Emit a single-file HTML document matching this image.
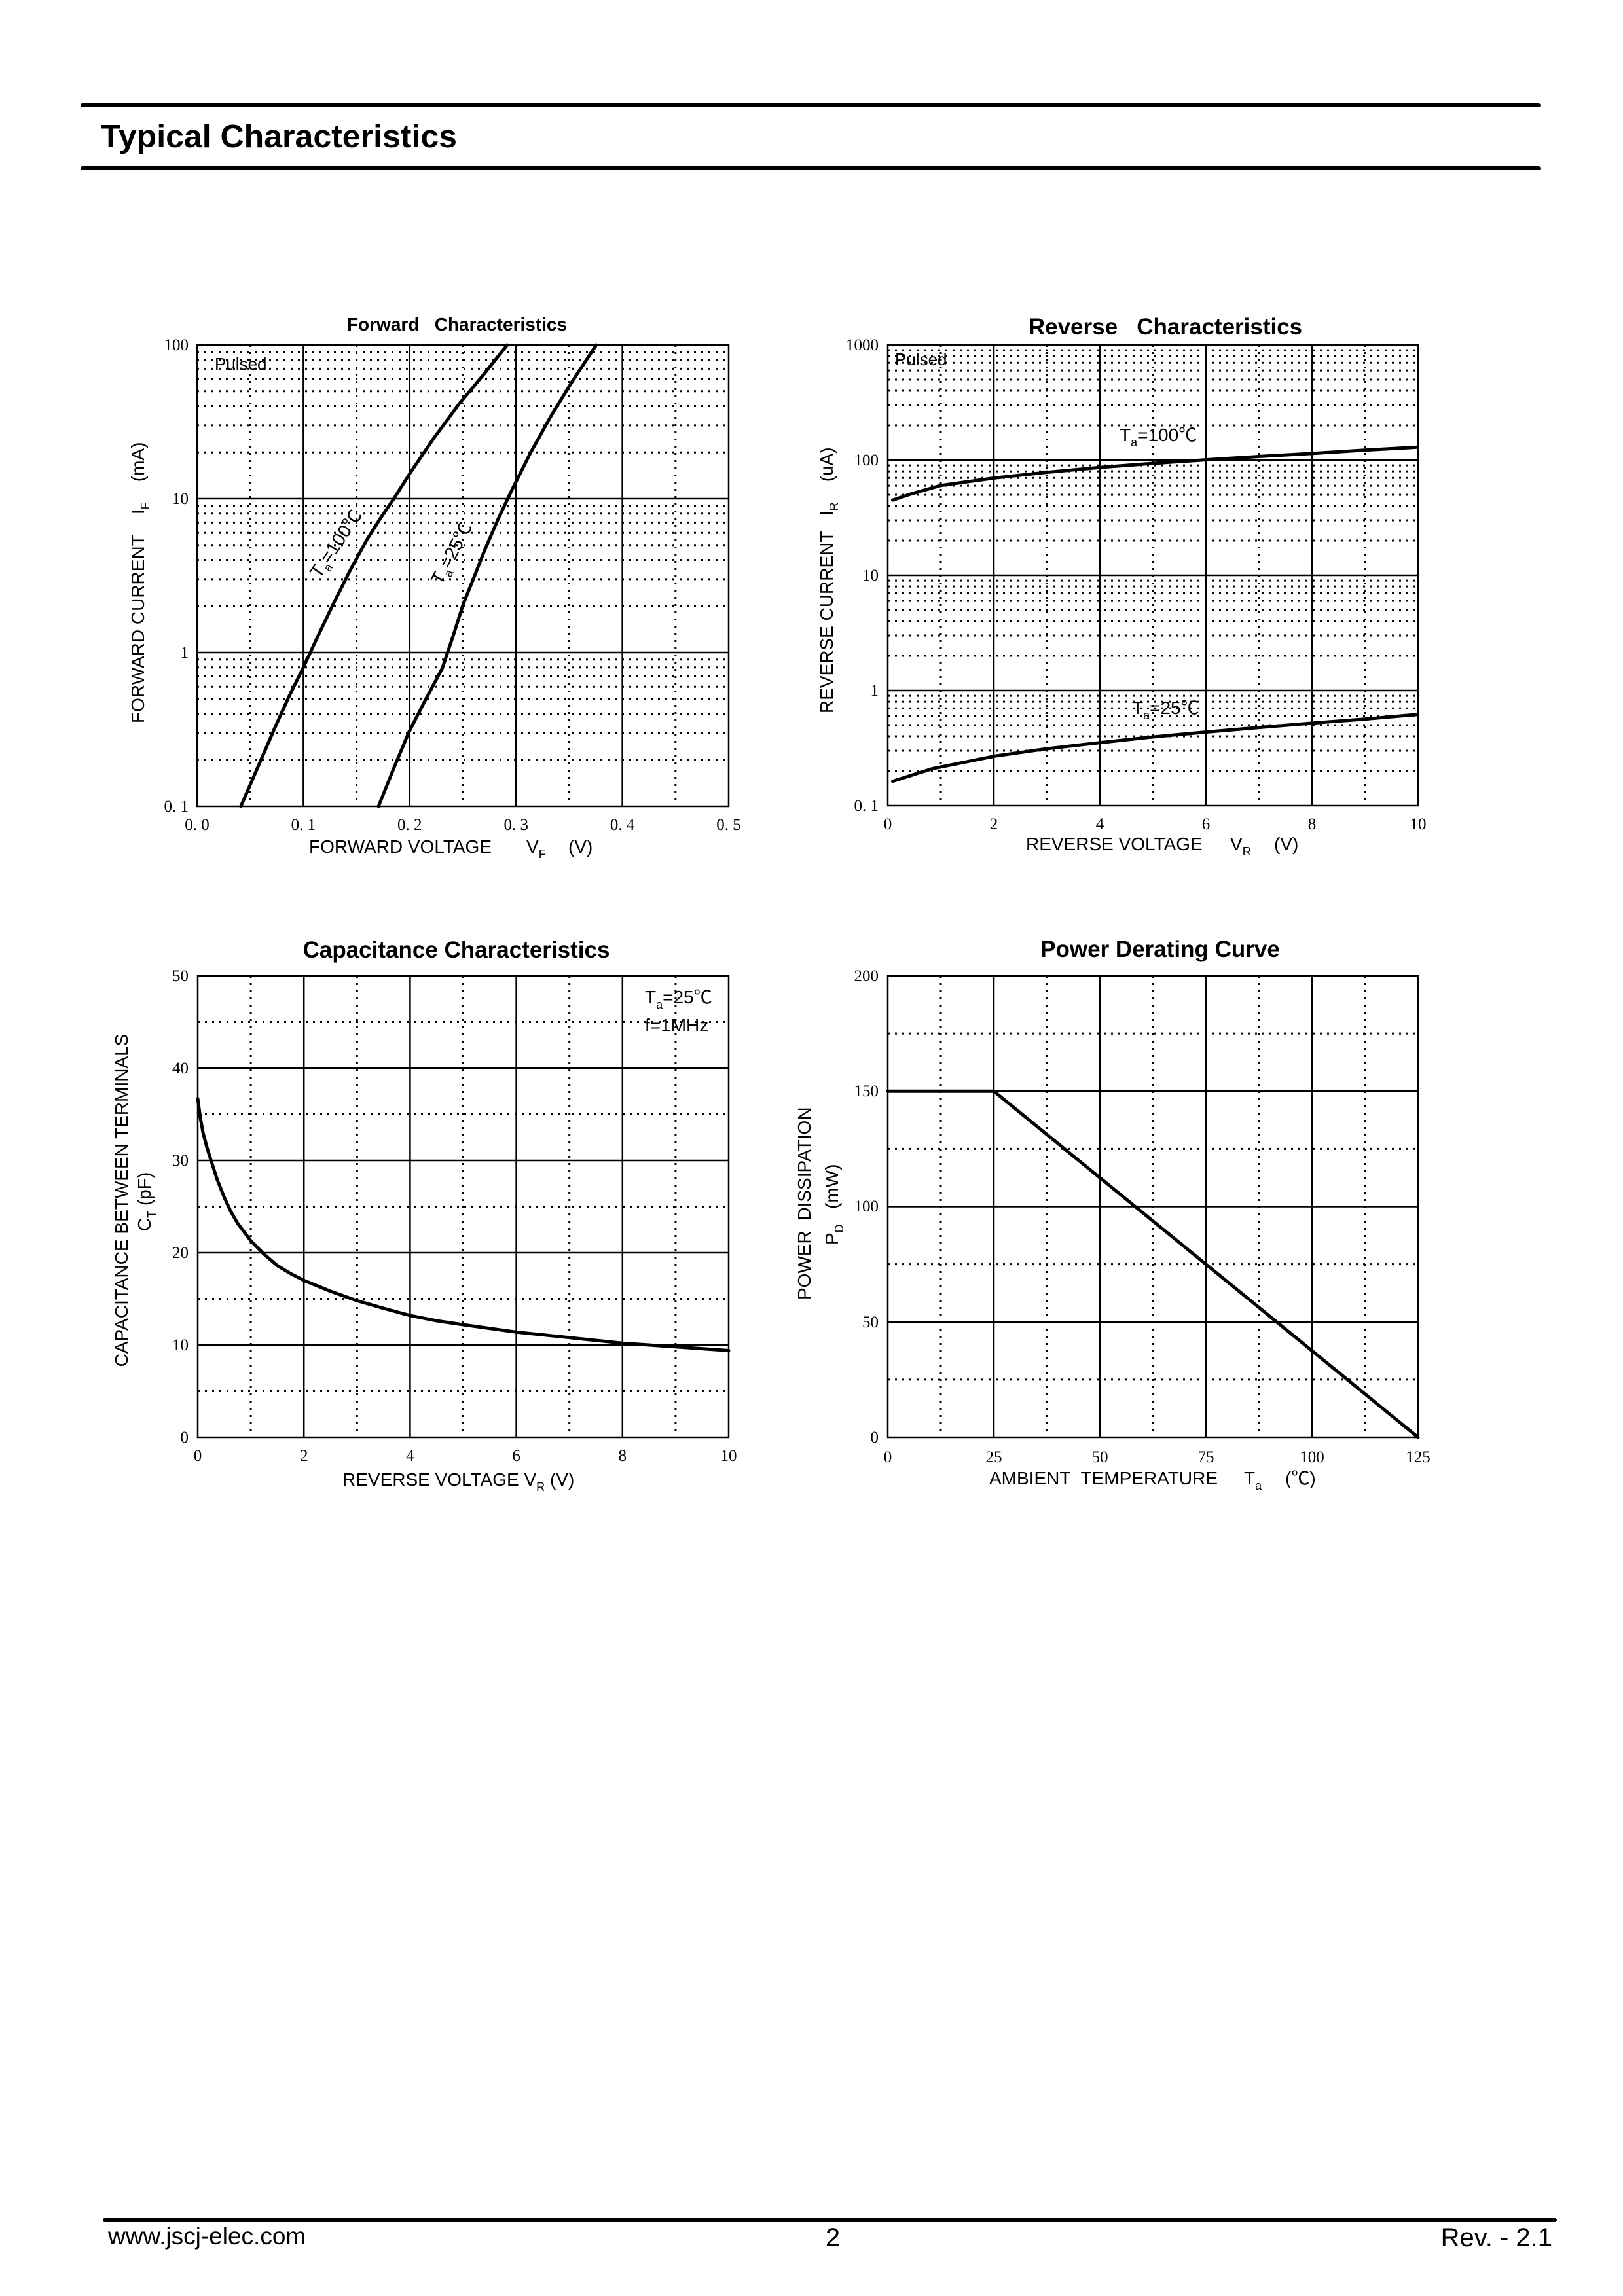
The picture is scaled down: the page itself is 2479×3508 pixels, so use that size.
<!DOCTYPE html>
<html><head><meta charset="utf-8"><style>
html,body{margin:0;padding:0;background:#fff}
svg{display:block}
.t{font-family:"Liberation Serif","Noto Serif CJK SC",serif;font-size:25px;fill:#000}
.s{font-family:"Liberation Sans","Noto Sans CJK SC",sans-serif;fill:#000}
.g{stroke:#000;stroke-width:2.5;fill:none}
.d{stroke:#000;stroke-width:3;stroke-dasharray:3 8;fill:none}
.c{stroke:#000;stroke-width:5;fill:none;stroke-linejoin:round;stroke-linecap:round}
</style></head><body>
<svg width="2479" height="3508" viewBox="0 0 2479 3508" xmlns="http://www.w3.org/2000/svg">
<!-- header -->
<line x1="126" y1="161" x2="2350" y2="161" stroke="#000" stroke-width="6" stroke-linecap="round"/>
<line x1="126" y1="257" x2="2350" y2="257" stroke="#000" stroke-width="6" stroke-linecap="round"/>
<text x="154" y="225" class="s" font-size="49" font-weight="bold" textLength="544" lengthAdjust="spacingAndGlyphs">Typical Characteristics</text>
<!-- footer -->
<line x1="160" y1="3392" x2="2375" y2="3392" stroke="#000" stroke-width="6" stroke-linecap="round"/>
<text x="165" y="3429" class="s" font-size="37">www.jscj-elec.com</text>
<text x="1272" y="3432" class="s" font-size="40" text-anchor="middle">2</text>
<text x="2371" y="3432" class="s" font-size="40" text-anchor="end">Rev. - 2.1</text>

<!-- ===== Forward ===== -->
<path class="d" d="M301 1161.3H1113M301 1119.9H1113M301 1090.5H1113M301 1067.7H1113M301 1049.2H1113M301 1033.4H1113M301 1019.8H1113M301 1007.8H1113
M301 926.3H1113M301 884.9H1113M301 855.5H1113M301 832.7H1113M301 814.2H1113M301 798.4H1113M301 784.8H1113M301 772.8H1113
M301 691.3H1113M301 649.9H1113M301 620.5H1113M301 597.7H1113M301 579.2H1113M301 563.4H1113M301 549.8H1113M301 537.8H1113
M382.2 527V1232M544.6 527V1232M707 527V1232M869.4 527V1232M1031.8 527V1232"/>
<path class="g" d="M301 762H1113M301 997H1113M463.4 527V1232M625.8 527V1232M788.2 527V1232M950.6 527V1232"/>
<rect x="301" y="527" width="812" height="705" class="g"/>
<polyline class="c" points="367.9,1232 393,1174 419.1,1113.6 441,1065 464,1018.4 486,971 508.9,923.2 534,873 560.1,825.1 581,792 601.8,761.6 627.4,721.2 662.7,669.3 701.1,617.3 739.6,571.2 774.8,527"/>
<polyline class="c" points="578.1,1232 601,1175 624.2,1119.4 650,1069 675.5,1021.2 692,972 707.5,923.2 724,882 739.6,842.4 760,795 781.2,750.1 810,692.4 842.1,634.7 874.1,582.7 910.7,527"/>
<text x="698" y="505" class="s" font-size="28" font-weight="bold" text-anchor="middle">Forward&#160;&#160; Characteristics</text>
<text x="328" y="565" class="s" font-size="26">Pulsed</text>
<text class="s" font-size="28" transform="translate(488,885) rotate(-56)">T<tspan font-size="18" dy="7">a</tspan><tspan dy="-7">=100℃</tspan></text>
<text class="s" font-size="28" transform="translate(674,895) rotate(-62)">T<tspan font-size="18" dy="7">a</tspan><tspan dy="-7">=25℃</tspan></text>
<g class="t" text-anchor="end"><text x="288" y="535">100</text><text x="288" y="770">10</text><text x="288" y="1005">1</text><text x="288" y="1240">0. 1</text></g>
<g class="t" text-anchor="middle"><text x="301" y="1268">0. 0</text><text x="463.4" y="1268">0. 1</text><text x="625.8" y="1268">0. 2</text><text x="788.2" y="1268">0. 3</text><text x="950.6" y="1268">0. 4</text><text x="1113" y="1268">0. 5</text></g>
<text x="472" y="1303" class="s" font-size="28">FORWARD VOLTAGE</text>
<text x="804" y="1303" class="s" font-size="28">V<tspan font-size="18" dy="8">F</tspan></text>
<text x="868" y="1303" class="s" font-size="28">(V)</text>
<text class="s" font-size="28" transform="translate(220,1105) rotate(-90)">FORWARD CURRENT&#160;&#160;&#160; I<tspan font-size="18" dy="8">F</tspan><tspan dy="-8">&#160;&#160;&#160; (mA)</tspan></text>

<!-- ===== Reverse ===== -->
<path class="d" d="M1356 1178H2166M1356 1147H2166M1356 1125H2166M1356 1108H2166M1356 1094.1H2166M1356 1082.3H2166M1356 1072.1H2166M1356 1063.1H2166
M1356 1002H2166M1356 971H2166M1356 949H2166M1356 932H2166M1356 918.1H2166M1356 906.3H2166M1356 896.1H2166M1356 887.1H2166
M1356 826H2166M1356 795H2166M1356 773H2166M1356 756H2166M1356 742.1H2166M1356 730.3H2166M1356 720.1H2166M1356 711.1H2166
M1356 650H2166M1356 619H2166M1356 597H2166M1356 580H2166M1356 566.1H2166M1356 554.3H2166M1356 544.1H2166M1356 535.1H2166
M1437 527V1231M1599 527V1231M1761 527V1231M1923 527V1231M2085 527V1231"/>
<path class="g" d="M1356 703H2166M1356 879H2166M1356 1055H2166M1518 527V1231M1680 527V1231M1842 527V1231M2004 527V1231"/>
<rect x="1356" y="527" width="810" height="704" class="g"/>
<polyline class="c" points="1363.5,764.1 1392.3,754.5 1437.2,741.7 1520.5,730.1 1597.4,721.8 1680.8,714.1 1757.7,708.3 1841,702.6 1924.4,697.4 2001.3,693 2084.6,687.8 2164.7,683.3"/>
<polyline class="c" points="1363.5,1193.6 1424.4,1174.4 1520.5,1155.1 1597.4,1144.2 1680.8,1134.6 1757.7,1126.3 1841,1118.6 1924.4,1111.5 2001.3,1105.1 2084.6,1098.7 2164.7,1091.7"/>
<text x="1780" y="511" class="s" font-size="35" font-weight="bold" text-anchor="middle">Reverse&#160;&#160; Characteristics</text>
<text x="1367" y="558" class="s" font-size="26">Pulsed</text>
<text x="1710" y="674" class="s" font-size="28">T<tspan font-size="18" dy="8">a</tspan><tspan dy="-8">=100℃</tspan></text>
<text x="1729" y="1091" class="s" font-size="28">T<tspan font-size="18" dy="8">a</tspan><tspan dy="-8">=25℃</tspan></text>
<g class="t" text-anchor="end"><text x="1342" y="535">1000</text><text x="1342" y="711">100</text><text x="1342" y="887">10</text><text x="1342" y="1063">1</text><text x="1342" y="1239">0. 1</text></g>
<g class="t" text-anchor="middle"><text x="1356" y="1267">0</text><text x="1518" y="1267">2</text><text x="1680" y="1267">4</text><text x="1842" y="1267">6</text><text x="2004" y="1267">8</text><text x="2166" y="1267">10</text></g>
<text x="1567" y="1299" class="s" font-size="28">REVERSE VOLTAGE</text>
<text x="1879" y="1299" class="s" font-size="28">V<tspan font-size="18" dy="8">R</tspan></text>
<text x="1946" y="1299" class="s" font-size="28">(V)</text>
<text class="s" font-size="28" transform="translate(1272,1090) rotate(-90)">REVERSE CURRENT&#160;&#160; I<tspan font-size="18" dy="8">R</tspan><tspan dy="-8">&#160;&#160;&#160; (uA)</tspan></text>

<!-- ===== Capacitance ===== -->
<path class="d" d="M302 2125.5H1113M302 1984.5H1113M302 1843.5H1113M302 1702.5H1113M302 1561.5H1113
M383.1 1491V2196M545.3 1491V2196M707.5 1491V2196M869.7 1491V2196M1031.9 1491V2196"/>
<path class="g" d="M302 2055H1113M302 1914H1113M302 1773H1113M302 1632H1113M464.2 1491V2196M626.4 1491V2196M788.6 1491V2196M950.8 1491V2196"/>
<rect x="302" y="1491" width="811" height="705" class="g"/>
<polyline class="c" points="302,1678.5 306,1708 310.1,1730.7 316,1753 322.3,1773 332,1803 342.6,1829.4 352,1850 362.8,1868.9 383.1,1895.7 403,1916 423.7,1933.7 444,1946 464.2,1956.3 505,1973 545.3,1987.3 586,1999 626.4,2009.9 667,2018 707.5,2024 788.6,2035.3 869.7,2043.7 950.8,2052.2 1031.9,2057.8 1113,2063.5"/>
<text x="697" y="1463" class="s" font-size="35" font-weight="bold" text-anchor="middle">Capacitance Characteristics</text>
<text x="985" y="1533" class="s" font-size="28">T<tspan font-size="18" dy="8">a</tspan><tspan dy="-8">=25℃</tspan></text>
<text x="985" y="1576" class="s" font-size="28">f=1MHz</text>
<g class="t" text-anchor="end"><text x="288" y="1499">50</text><text x="288" y="1640">40</text><text x="288" y="1781">30</text><text x="288" y="1922">20</text><text x="288" y="2063">10</text><text x="288" y="2204">0</text></g>
<g class="t" text-anchor="middle"><text x="302" y="2232">0</text><text x="464.2" y="2232">2</text><text x="626.4" y="2232">4</text><text x="788.6" y="2232">6</text><text x="950.8" y="2232">8</text><text x="1113" y="2232">10</text></g>
<text x="523" y="2270" class="s" font-size="28">REVERSE VOLTAGE V<tspan font-size="18" dy="8">R</tspan><tspan dy="-8"> (V)</tspan></text>
<text class="s" font-size="28" text-anchor="middle" transform="translate(195,1834) rotate(-90)">CAPACITANCE BETWEEN TERMINALS</text>
<text class="s" font-size="28" text-anchor="middle" transform="translate(230,1836) rotate(-90)">C<tspan font-size="18" dy="8">T</tspan><tspan dy="-8"> (pF)</tspan></text>

<!-- ===== Power ===== -->
<path class="d" d="M1356 2107.9H2166M1356 1931.6H2166M1356 1755.4H2166M1356 1579.1H2166
M1437 1491V2196M1599 1491V2196M1761 1491V2196M1923 1491V2196M2085 1491V2196"/>
<path class="g" d="M1356 2019.75H2166M1356 1843.5H2166M1356 1667.25H2166M1518 1491V2196M1680 1491V2196M1842 1491V2196M2004 1491V2196"/>
<rect x="1356" y="1491" width="810" height="705" class="g"/>
<polyline class="c" points="1356,1667.25 1518,1667.25 2166,2196"/>
<text x="1772" y="1462" class="s" font-size="35" font-weight="bold" text-anchor="middle">Power Derating Curve</text>
<g class="t" text-anchor="end"><text x="1342" y="1499">200</text><text x="1342" y="1675">150</text><text x="1342" y="1851">100</text><text x="1342" y="2028">50</text><text x="1342" y="2204">0</text></g>
<g class="t" text-anchor="middle"><text x="1356" y="2234">0</text><text x="1518" y="2234">25</text><text x="1680" y="2234">50</text><text x="1842" y="2234">75</text><text x="2004" y="2234">100</text><text x="2166" y="2234">125</text></g>
<text x="1511" y="2268" class="s" font-size="28">AMBIENT&#160; TEMPERATURE</text>
<text x="1900" y="2268" class="s" font-size="28">T<tspan font-size="18" dy="8">a</tspan></text>
<text x="1963" y="2268" class="s" font-size="28">(℃)</text>
<text class="s" font-size="28" transform="translate(1238,1986) rotate(-90)">POWER&#160; DISSIPATION</text>
<text class="s" font-size="28" transform="translate(1280,1902) rotate(-90)">P<tspan font-size="18" dy="8">D</tspan><tspan dy="-8">&#160;&#160; (mW)</tspan></text>
</svg>
</body></html>
